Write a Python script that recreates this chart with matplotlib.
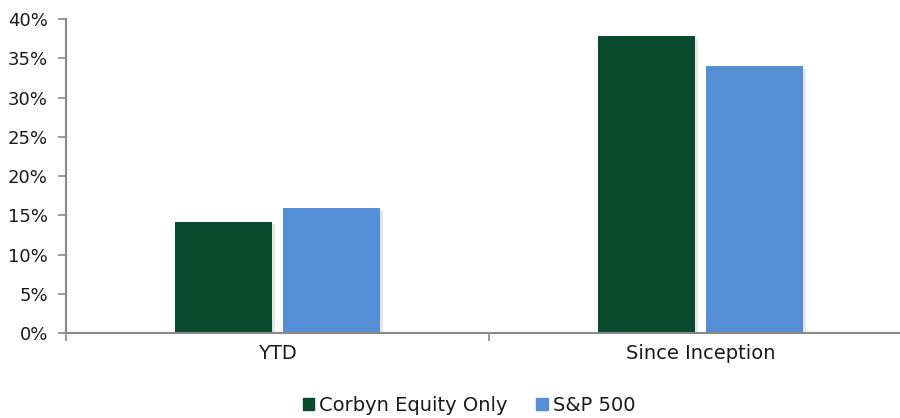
import matplotlib.pyplot as plt
import matplotlib.patheffects as pe
from matplotlib.patches import Patch
import numpy as np

categories = ['YTD', 'Since Inception']
series_names = ['Corbyn Equity Only', 'S&P 500']
corbyn = [14.2, 37.8]
sp500 = [15.9, 34.0]
colors = ['#094A2F', '#558ED5']

fig = plt.figure(figsize=(9, 4.18), dpi=100)
ax = fig.add_axes([0.0733, 0.2033, 0.94, 0.7512])

x = np.arange(len(categories))
w = 0.23
gap = 0.024
shadow = [pe.SimplePatchShadow(offset=(2, -2), shadow_rgbFace='#999999', alpha=0.25), pe.Normal()]
b1 = ax.bar(x - (w + gap) / 2, corbyn, w, color=colors[0])
b2 = ax.bar(x + (w + gap) / 2, sp500, w, color=colors[1])
for b in list(b1) + list(b2):
    b.set_path_effects(shadow)

ax.set_xlim(-0.5, 1.5)
ax.set_ylim(0, 40)
ax.set_yticks(np.arange(0, 41, 5))
ax.set_yticklabels([f'{v}%' for v in range(0, 41, 5)])
ax.set_xticks(x)
ax.set_xticklabels(categories)
ax.set_xticks([-0.5, 0.5, 1.5], minor=True)

for s in ['top', 'right']:
    ax.spines[s].set_visible(False)
for s in ['left', 'bottom']:
    ax.spines[s].set_color('#898989')
    ax.spines[s].set_linewidth(1.5)

ax.tick_params(axis='y', length=6, width=1.2, color='#898989', labelsize=13, pad=7, labelcolor='#1a1a1a')
ax.tick_params(axis='x', which='major', length=0, labelsize=14, pad=8, labelcolor='#1a1a1a')
ax.tick_params(axis='x', which='minor', length=6, width=1.2, color='#898989')

handles = [Patch(color=c, label=n) for c, n in zip(colors, series_names)]
fig.legend(handles=handles, loc='center', bbox_to_anchor=(0.521, 0.03), ncol=2, frameon=False,
           fontsize=14, handlelength=0.57, handleheight=0.57, handletextpad=0.26,
           columnspacing=1.5, labelcolor='#1a1a1a')

fig.savefig('out.png', dpi=100)
